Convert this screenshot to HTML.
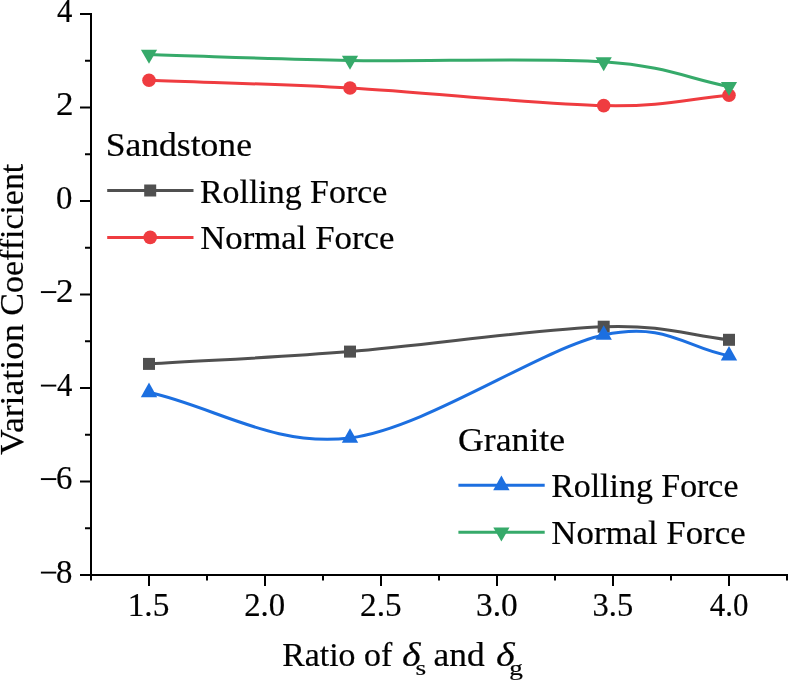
<!DOCTYPE html>
<html><head><meta charset="utf-8"><style>html,body{margin:0;padding:0;background:#fff;overflow:hidden}svg{display:block}text{font-family:"Liberation Serif",serif}</style></head>
<body><svg width="788" height="681" viewBox="0 0 788 681">
<rect width="788" height="681" fill="#fff"/>
<g stroke="#000" stroke-width="2" fill="none">
<path d="M91,13 V576 M90,575 H788"/>
<path d="M80,14.00 H91"/>
<path d="M80,107.50 H91"/>
<path d="M80,201.00 H91"/>
<path d="M80,294.50 H91"/>
<path d="M80,388.00 H91"/>
<path d="M80,481.50 H91"/>
<path d="M80,575.00 H91"/>
<path d="M85,60.75 H91"/>
<path d="M85,154.25 H91"/>
<path d="M85,247.75 H91"/>
<path d="M85,341.25 H91"/>
<path d="M85,434.75 H91"/>
<path d="M85,528.25 H91"/>
<path d="M149.00,575 V586"/>
<path d="M265.00,575 V586"/>
<path d="M381.00,575 V586"/>
<path d="M497.00,575 V586"/>
<path d="M613.00,575 V586"/>
<path d="M729.00,575 V586"/>
<path d="M91.00,575 V580.4"/>
<path d="M207.00,575 V580.4"/>
<path d="M323.00,575 V580.4"/>
<path d="M439.00,575 V580.4"/>
<path d="M555.00,575 V580.4"/>
<path d="M671.00,575 V580.4"/>
<path d="M787.00,575 V580.4"/>
</g>
<path d="M149.00,363.90 C216.00,359.80 274.22,357.80 350.00,351.60 C425.78,345.40 540.53,328.67 603.70,326.70 C666.87,324.73 687.23,335.43 729.00,339.80" stroke="#505050" stroke-width="3" fill="none"/>
<rect x="143.00" y="357.90" width="12" height="12" fill="#505050"/>
<rect x="344.00" y="345.60" width="12" height="12" fill="#505050"/>
<rect x="597.70" y="320.70" width="12" height="12" fill="#505050"/>
<rect x="723.00" y="333.80" width="12" height="12" fill="#505050"/>
<path d="M149.00,80.25 C216.00,82.83 274.22,83.78 350.00,88.00 C425.78,92.22 540.53,104.40 603.70,105.60 C666.87,106.80 687.23,98.67 729.00,95.20" stroke="#EF3C40" stroke-width="3" fill="none"/>
<circle cx="149.00" cy="80.25" r="6.8" fill="#EF3C40"/>
<circle cx="350.00" cy="88.00" r="6.8" fill="#EF3C40"/>
<circle cx="603.70" cy="105.60" r="6.8" fill="#EF3C40"/>
<circle cx="729.00" cy="95.20" r="6.8" fill="#EF3C40"/>
<path d="M149.00,392.30 C216.00,407.50 274.22,447.45 350.00,437.90 C425.78,428.35 540.53,348.70 603.70,335.00 C666.87,321.30 687.23,348.80 729.00,355.70" stroke="#1C6FE0" stroke-width="3" fill="none"/>
<path d="M149.00,382.57 L157.20,397.17 L140.80,397.17 Z" fill="#1C6FE0"/>
<path d="M350.00,428.17 L358.20,442.77 L341.80,442.77 Z" fill="#1C6FE0"/>
<path d="M603.70,325.27 L611.90,339.87 L595.50,339.87 Z" fill="#1C6FE0"/>
<path d="M729.00,345.97 L737.20,360.57 L720.80,360.57 Z" fill="#1C6FE0"/>
<path d="M149.00,54.50 C216.00,56.50 274.22,59.28 350.00,60.50 C425.78,61.72 540.53,57.45 603.70,61.80 C666.87,66.15 687.23,78.33 729.00,86.60" stroke="#36AA6A" stroke-width="3" fill="none"/>
<path d="M140.90,49.83 L157.10,49.83 L149.00,63.83 Z" fill="#36AA6A"/>
<path d="M341.90,55.83 L358.10,55.83 L350.00,69.83 Z" fill="#36AA6A"/>
<path d="M595.60,57.13 L611.80,57.13 L603.70,71.13 Z" fill="#36AA6A"/>
<path d="M720.90,81.93 L737.10,81.93 L729.00,95.93 Z" fill="#36AA6A"/>
<path d="M107.20,190.50 H193.50" stroke="#505050" stroke-width="3"/>
<rect x="144.20" y="184.50" width="12" height="12" fill="#505050"/>
<path d="M107.20,237.40 H193.50" stroke="#EF3C40" stroke-width="3"/>
<circle cx="150.20" cy="237.40" r="6.8" fill="#EF3C40"/>
<path d="M458.40,485.30 H544.70" stroke="#1C6FE0" stroke-width="3"/>
<path d="M501.40,475.57 L509.60,490.17 L493.20,490.17 Z" fill="#1C6FE0"/>
<path d="M458.40,532.20 H544.70" stroke="#36AA6A" stroke-width="3"/>
<path d="M493.30,527.53 L509.50,527.53 L501.40,541.53 Z" fill="#36AA6A"/>
<rect x="40.9" y="291.15" width="15.4" height="1.9" fill="#000"/>
<rect x="40.9" y="384.65" width="15.4" height="1.9" fill="#000"/>
<rect x="40.9" y="478.15" width="15.4" height="1.9" fill="#000"/>
<rect x="40.9" y="571.65" width="15.4" height="1.9" fill="#000"/>
<g font-family="Liberation Serif" fill="#000" stroke="#000" stroke-width="0.2" opacity="0.999">
<text transform="translate(57.00,21.60) scale(0.9313,1)" font-size="33" font-style="normal">4</text>
<text transform="translate(55.94,115.10) scale(1.0643,1)" font-size="33" font-style="normal">2</text>
<text transform="translate(56.01,208.60) scale(0.9933,1)" font-size="33" font-style="normal">0</text>
<text transform="translate(55.94,302.10) scale(1.0643,1)" font-size="33" font-style="normal">2</text>
<text transform="translate(57.00,395.60) scale(0.9313,1)" font-size="33" font-style="normal">4</text>
<text transform="translate(56.01,489.10) scale(0.9933,1)" font-size="33" font-style="normal">6</text>
<text transform="translate(56.01,582.60) scale(0.9933,1)" font-size="33" font-style="normal">8</text>
<text transform="translate(127.67,616.00) scale(1.0108,1)" font-size="33" font-style="normal">1.5</text>
<text transform="translate(244.21,616.00) scale(0.9949,1)" font-size="33" font-style="normal">2.0</text>
<text transform="translate(360.04,616.00) scale(1.0077,1)" font-size="33" font-style="normal">2.5</text>
<text transform="translate(475.94,616.00) scale(1.0128,1)" font-size="33" font-style="normal">3.0</text>
<text transform="translate(592.62,616.00) scale(0.9846,1)" font-size="33" font-style="normal">3.5</text>
<text transform="translate(709.75,616.00) scale(0.9375,1)" font-size="33" font-style="normal">4.0</text>
<text transform="translate(105.74,156.00) scale(1.0782,1)" font-size="33" font-style="normal">Sandstone</text>
<text transform="translate(199.97,202.60) scale(1.0271,1)" font-size="33" font-style="normal">Rolling Force</text>
<text transform="translate(200.15,249.40) scale(1.0549,1)" font-size="33" font-style="normal">Normal Force</text>
<text transform="translate(458.02,450.80) scale(1.0825,1)" font-size="33" font-style="normal">Granite</text>
<text transform="translate(551.17,497.40) scale(1.0271,1)" font-size="33" font-style="normal">Rolling Force</text>
<text transform="translate(551.35,544.20) scale(1.0549,1)" font-size="33" font-style="normal">Normal Force</text>
<text transform="translate(282.17,666.40) scale(1.0262,1)" font-size="33" font-style="normal">Ratio of</text>
<text transform="translate(402.09,666.40) scale(1.2067,1)" font-size="33" font-style="italic">δ</text>
<text transform="translate(415.56,674.60) scale(1.2429,1)" font-size="22" font-style="normal">s</text>
<text transform="translate(433.53,666.40) scale(1.0723,1)" font-size="33" font-style="normal">and</text>
<text transform="translate(496.09,666.40) scale(1.2133,1)" font-size="33" font-style="italic">δ</text>
<text transform="translate(509.26,674.60) scale(1.2400,1)" font-size="22" font-style="normal">g</text>
<text transform="translate(23.20,454.90) rotate(-90) scale(1.0810,1)" font-size="33" font-style="normal">Variation</text>
<text transform="translate(23.20,315.63) rotate(-90) scale(1.0279,1)" font-size="33" font-style="normal">Coefficient</text>
</g>
</svg></body></html>
